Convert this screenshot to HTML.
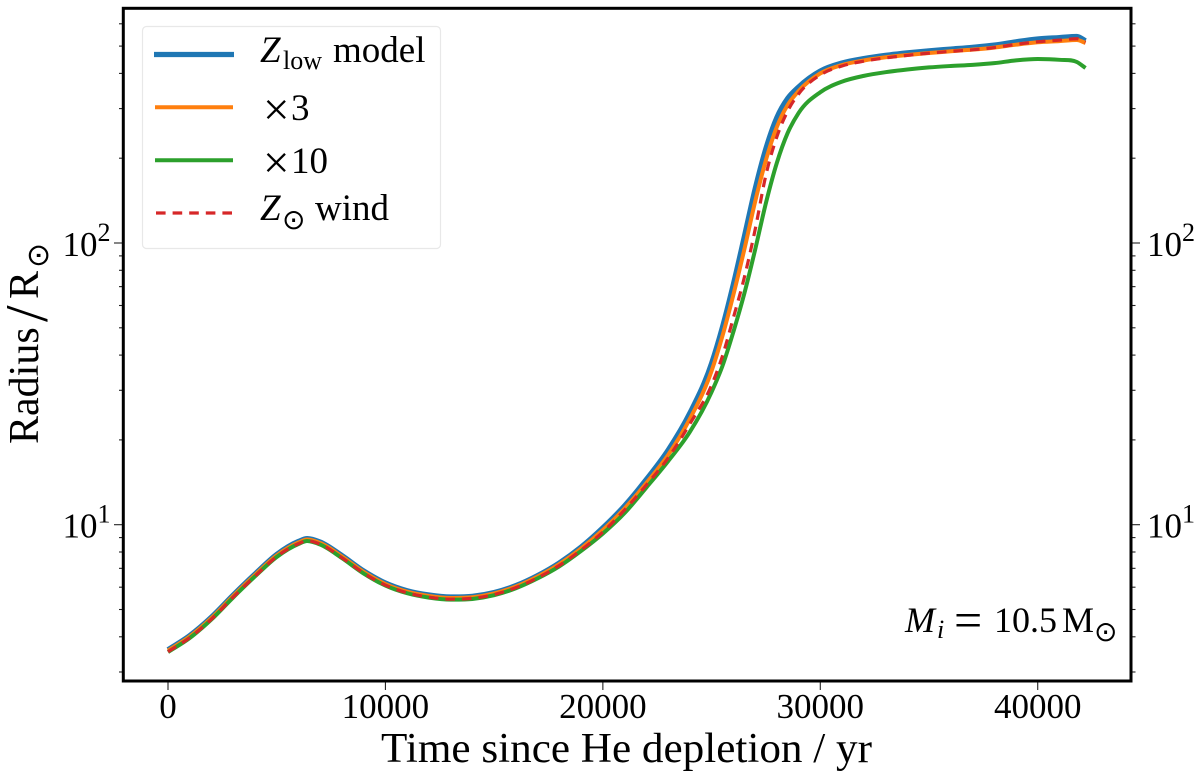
<!DOCTYPE html>
<html lang="en">
<head>
<meta charset="utf-8">
<title>Radius vs time since He depletion</title>
<style>
html,body{margin:0;padding:0;background:#fff;}
svg{display:block;}
text{font-family:"Liberation Serif","DejaVu Serif",serif;fill:#000;}
.odot{font-family:"DejaVu Sans",sans-serif;}
</style>
</head>
<body>
<svg id="chart" xmlns="http://www.w3.org/2000/svg" width="1200" height="777" viewBox="0 0 1200 777">
  <rect x="0" y="0" width="1200" height="777" fill="#fff"/>
  <g id="series"></g>
  <g id="ticks"></g>
  <rect x="123.3" y="8.3" width="1007.7" height="672.7" fill="none" stroke="#000" stroke-width="3"/>

  <g>
    <rect x="142.5" y="26.5" width="298" height="222" rx="4" ry="4" fill="#fff" fill-opacity="0.8" stroke="#e8e8e8" stroke-width="1.2"/>
    <g>
      <line x1="154" x2="234" y1="54.5" y2="54.5" stroke="#1f77b4" stroke-width="5.2"/>
      <text y="62" font-size="37"><tspan x="260" font-style="italic">Z</tspan><tspan x="283" font-size="26" dy="7">low</tspan><tspan x="333" dy="-7">model</tspan></text>
    </g>
    <g>
      <line x1="155" x2="233" y1="107.3" y2="107.3" stroke="#ff7f0e" stroke-width="4"/>
      <text y="120" font-size="37"><tspan x="263" font-size="47" dy="5">×</tspan><tspan x="291" dy="-5">3</tspan></text>
    </g>
    <g>
      <line x1="155" x2="233" y1="160.3" y2="160.3" stroke="#2ca02c" stroke-width="4"/>
      <text y="173" font-size="37"><tspan x="263" font-size="47" dy="5">×</tspan><tspan x="291" dy="-5">10</tspan></text>
    </g>
    <g>
      <line x1="156" x2="232" y1="213" y2="213" stroke="#d62728" stroke-width="3.2" stroke-dasharray="9.6 7"/>
      <text y="220" font-size="37"><tspan x="260" font-style="italic">Z</tspan><tspan class="odot" x="282" font-size="28" dy="9">⊙</tspan><tspan x="315" dy="-9">wind</tspan></text>
    </g>
  </g>

  <text y="632" font-size="36"><tspan x="905" font-style="italic">M</tspan><tspan x="937" font-style="italic" font-size="26" dy="6">i</tspan><tspan x="954" font-size="50" dy="-1">=</tspan><tspan x="994" dy="-5">10.5</tspan><tspan x="1062">M</tspan><tspan class="odot" x="1094" font-size="28" dy="9">⊙</tspan></text>

  <text x="381" y="762" font-size="42" textLength="491" lengthAdjust="spacingAndGlyphs">Time since He depletion / yr</text>
  <text transform="translate(38,444) rotate(-90)" font-size="42"><tspan x="0">Radius</tspan><tspan x="122" font-size="60" dy="9">/</tspan><tspan x="145" dy="-9">R</tspan><tspan class="odot" x="176" font-size="30" dy="10">⊙</tspan></text>
</svg>

<script>
const timeYr = [0,1000,2000,3000,4000,5000,6000,6400,7000,8000,9000,10000,11000,12000,13000,14000,15000,16000,17000,18000,19000,20000,21000,22000,23000,24000,25000,25500,26000,26500,27000,27500,28000,28500,29000,30000,31000,32000,33000,34000,35000,36000,37000,38000,39000,40000,41000,41800,42200];
const radiusZlow = [3.60,4.04,4.70,5.63,6.68,7.84,8.72,8.93,8.68,7.77,6.85,6.21,5.83,5.63,5.54,5.57,5.745,6.08,6.60,7.32,8.33,9.75,11.68,14.48,18.39,24.9,37.4,50.3,71.3,104.8,155.2,216.7,278.6,326,358,408,435.5,451.5,463.5,473,481,488,495,504,518,530,536,541,522];
const radiusX3 = [3.576,4.01,4.665,5.586,6.63,7.775,8.646,8.862,8.61,7.71,6.795,6.157,5.784,5.586,5.494,5.525,5.70,6.034,6.548,7.25,8.233,9.576,11.42,14.06,17.68,23.73,35.13,46.77,65.4,94.4,139.8,197,258,309,346,400,428.5,444.6,456.4,465,472.7,479.3,485.6,494,505.8,515.8,521,525.6,513];
const radiusX10 = [3.53,3.96,4.61,5.52,6.55,7.68,8.54,8.75,8.50,7.61,6.71,6.08,5.71,5.51,5.42,5.45,5.62,5.95,6.45,7.12,8.07,9.30,11.0,13.55,16.8,21.34,29.58,36.59,48.3,65.9,94.4,138.7,192.3,245.8,289.3,343,374,392,404,413,420,425,429,435,445,450,447,439,418];
const radiusZsunWind = [3.54,3.97,4.62,5.53,6.56,7.70,8.56,8.77,8.53,7.63,6.73,6.10,5.73,5.53,5.44,5.48,5.65,5.98,6.48,7.17,8.13,9.42,11.28,13.83,17.25,22.8,31.3,39.7,54.2,75.1,111.2,174.4,237.9,294,338,395,425,442,454,463.5,472,479,485,494,507,518,525,531,516];
const xTickValues = [0,10000,20000,30000,40000];
const xTickLabels = ["0","10000","20000","30000","40000"];
const yMajorValues = [10,100];
const yMajorBases = ["10","10"];
const yMajorExponents = ["1","2"];
const yMinorValues = [3,4,5,6,7,8,9,20,30,40,50,60,70,80,90,200,300,400,500,600];

const SVGNS = 'http://www.w3.org/2000/svg';
const xPos = t => 168 + 0.021743 * t;
const yPos = r => 524.7 - 281.7 * (Math.log10(r) - 1);

function mono(points){
  const n = points.length, d = [], m = [];
  for(let i=0;i<n-1;i++) d.push((points[i+1][1]-points[i][1])/(points[i+1][0]-points[i][0]));
  m.push(d[0]);
  for(let i=1;i<n-1;i++){
    if(d[i-1]*d[i]<=0){m.push(0);}
    else{
      const h0=points[i][0]-points[i-1][0], h1=points[i+1][0]-points[i][0];
      m.push((d[i-1]*h1+d[i]*h0)/(h0+h1));
    }
  }
  m.push(d[n-2]);
  let path = 'M'+points[0][0].toFixed(2)+' '+points[0][1].toFixed(2);
  for(let i=0;i<n-1;i++){
    const h=(points[i+1][0]-points[i][0])/3;
    path += 'C'+(points[i][0]+h).toFixed(2)+' '+(points[i][1]+m[i]*h).toFixed(2)+' '
      +(points[i+1][0]-h).toFixed(2)+' '+(points[i+1][1]-m[i+1]*h).toFixed(2)+' '
      +points[i+1][0].toFixed(2)+' '+points[i+1][1].toFixed(2);
  }
  return path;
}

function drawSeries(values, color, width, dash, name){
  const el = document.createElementNS(SVGNS,'path');
  
  
  el.setAttribute('d', mono(values.map((v,i)=>[xPos(timeYr[i]), yPos(v)])));
  el.setAttribute('fill','none');
  el.setAttribute('stroke',color);
  el.setAttribute('stroke-width',width);
  el.setAttribute('stroke-linejoin','round');
  if(dash) el.setAttribute('stroke-dasharray',dash);
  document.getElementById('series').appendChild(el);
}
drawSeries(radiusZlow,'#1f77b4',5.2,null,'series-zlow-model');
drawSeries(radiusX3,'#ff7f0e',4,null,'series-x3');
drawSeries(radiusX10,'#2ca02c',4,null,'series-x10');
drawSeries(radiusZsunWind,'#d62728',3.2,'9.6 7','series-zsun-wind');

const tickGroup = document.getElementById('ticks');
function tickLine(x1,y1,x2,y2,name){
  const el = document.createElementNS(SVGNS,'line');
  
  
  el.setAttribute('x1',x1);
  el.setAttribute('y1',y1);
  el.setAttribute('x2',x2);
  el.setAttribute('y2',y2);
  el.setAttribute('stroke','#222');
  el.setAttribute('stroke-width','1.1');
  tickGroup.appendChild(el);
}
xTickValues.forEach((v,i)=>{
  const x = xPos(v);
  tickLine(x,681,x,690,'x-tick');
  const label = document.createElementNS(SVGNS,'text');
  
  
  label.setAttribute('x',x);
  label.setAttribute('y',718);
  label.setAttribute('font-size',35);
  label.setAttribute('text-anchor','middle');
  label.textContent = xTickLabels[i];
  tickGroup.appendChild(label);
});
yMinorValues.forEach(v=>{
  const y = yPos(v);
  tickLine(119,y,123.3,y,'y-minor-tick-left');
  tickLine(1131,y,1135.5,y,'y-minor-tick-right');
});
function yLabel(x,y,base,exp,name){
  const label = document.createElementNS(SVGNS,'text');
  
  
  label.setAttribute('x',x);
  label.setAttribute('y',y);
  label.setAttribute('font-size',35);
  const b = document.createElementNS(SVGNS,'tspan');
  b.textContent = base;
  const e = document.createElementNS(SVGNS,'tspan');
  e.setAttribute('font-size',26);
  e.setAttribute('dy',-15);
  e.textContent = exp;
  label.appendChild(b);
  label.appendChild(e);
  tickGroup.appendChild(label);
}
yMajorValues.forEach((v,i)=>{
  const y = yPos(v);
  tickLine(114,y,123.3,y,'y-major-tick-left');
  tickLine(1131,y,1140,y,'y-major-tick-right');
  yLabel(62.5,y+13,yMajorBases[i],yMajorExponents[i],'y-tick-label-left');
  yLabel(1147,y+13,yMajorBases[i],yMajorExponents[i],'y-tick-label-right');
});
</script>
</body>
</html>
